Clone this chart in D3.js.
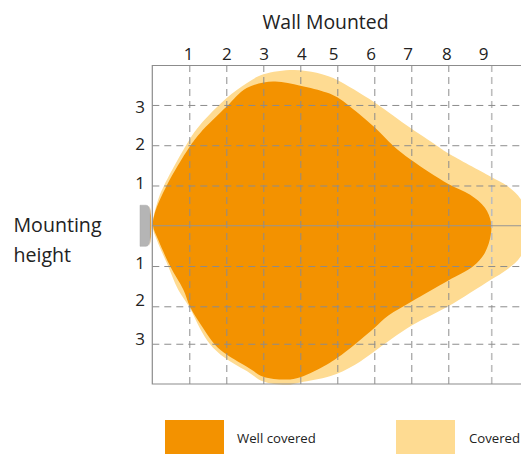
<!DOCTYPE html>
<html>
<head>
<meta charset="utf-8">
<style>
html,body{margin:0;padding:0;background:#fff}
svg{display:block}
text{font-family:"Open Sans",sans-serif;fill:#222}
</style>
<script src="https://cdn.jsdelivr.net/npm/d3@7"></script>
</head>
<body>
<script>
const title = "Wall Mounted";
const sideLabel = ["Mounting", "height"];
const legendLabels = ["Well covered", "Covered"];
const xGrid = [1, 2, 3, 4, 5, 6, 7, 8];
const xGridLast = [9.16];
const yGrid = [3, 2, 1, -1, -2, -2.93];
const xLabelAt = [0.97, 2, 3.01, 4.03, 4.89, 5.9, 6.9, 7.95, 8.94];
const yLabelAt = [2.96, 2.03, 1.06, -0.93, -1.85, -2.81];
const wellX = [0.02,0.07,0.39,1,1.29,2.01,2.55,3.27,4,4.71,5,5.34,6,6.51,6.99,8,8.59,8.99,9.15,9.15,8.99,8.68,8,7.01,6.38,6,5.48,5,4.71,4,3.63,3,2.64,2.01,1.7,1.38,1.02,0.84,0.48,0.16];
const wellY = [0,0.32,1,1.95,2.3,2.96,3.42,3.58,3.48,3.31,3.19,2.96,2.45,1.99,1.64,1.04,0.77,0.45,0.11,-0.22,-0.67,-1,-1.36,-1.88,-2.23,-2.54,-2.94,-3.28,-3.45,-3.76,-3.82,-3.75,-3.55,-3.2,-2.96,-2.55,-2.01,-1.59,-1,-0.35];
const coveredX = [0.01,0.16,0.32,1,1.29,2.01,2.55,3,3.81,4.44,4.8,5,6,6.99,7.69,8,9.15,9.58,9.96,10.21,9.96,9.58,9.15,8,7.01,6,5.48,4.8,4,3.63,3,2.64,1.96,1.56,1.29,1,0.7,0.39,0.12];
const coveredY = [0,0.65,1,2.13,2.5,3.17,3.54,3.76,3.87,3.8,3.7,3.62,3.07,2.42,1.99,1.8,1.22,1,0.66,0,-0.76,-1.09,-1.34,-2,-2.48,-3.12,-3.45,-3.74,-3.89,-3.95,-3.87,-3.66,-3.28,-2.94,-2.55,-2.02,-1.59,-0.92,-0.35];

const W = 521, H = 454;
const left = 152.3, top_ = 65.5, bottom = 384;
const ORANGE = "#f39200", LIGHT = "#fedb92", GRID = "#8c8c8c";

const svg = d3.select("body").append("svg").attr("width", W).attr("height", H);
const x = d3.scaleLinear().domain([0, 10]).range([left, left + 370]);
const y = d3.scaleLinear().domain([-3.93, 3.98]).range([bottom, top_]);

const area = d3.line().x(d => x(d[0])).y(d => y(d[1])).curve(d3.curveCatmullRomClosed.alpha(0.5));
svg.append("defs").append("clipPath").attr("id", "c").append("rect")
  .attr("x", left).attr("y", 60).attr("width", W - left).attr("height", 330);

const marks = svg.append("g").attr("clip-path", "url(#c)");
marks.append("path").attr("d", area(d3.zip(coveredX, coveredY))).attr("fill", LIGHT);
marks.append("path").attr("d", area(d3.zip(wellX, wellY))).attr("fill", ORANGE);

// lamp
svg.append("path").attr("fill", "#e89a2c")
  .attr("d", `M${x(0)-2.5},${y(0.5)}Q${x(0)+0.5},${y(0)} ${x(0)-2.5},${y(-0.5)}Z`);
svg.append("path").attr("fill", "#b5b5b5").attr("stroke", "#a8a8a8").attr("stroke-width", 0.5)
  .attr("d", `M140,${y(0.51)}H146Q150,${y(0.51)} 150,${y(0.3)}V${y(-0.3)}Q150,${y(-0.51)} 146,${y(-0.51)}H140Z`);

// grid via axes
const gv = svg.append("g").attr("transform", `translate(0,${bottom})`)
  .call(d3.axisTop(x).tickValues(xGrid).tickSize(bottom - top_).tickFormat(""));
gv.select(".domain").remove();
gv.selectAll("line").attr("stroke", GRID).attr("stroke-width", 1).attr("stroke-dasharray", "7,5");

const gv9 = svg.append("g").attr("transform", `translate(0,${bottom})`)
  .call(d3.axisTop(x).tickValues(xGridLast).tickSize(bottom - top_).tickFormat(""));
gv9.select(".domain").remove();
gv9.selectAll("line").attr("stroke", "#bdbdbd").attr("stroke-width", 1.6).attr("stroke-dasharray", "7,5");

const gh = svg.append("g").attr("transform", `translate(${left},0)`)
  .call(d3.axisRight(y).tickValues(yGrid).tickSize(W - left).tickFormat(""));
gh.select(".domain").remove();
gh.selectAll("line").attr("stroke", GRID).attr("stroke-width", 1).attr("stroke-dasharray", "7,5");

// centre line + frame
svg.append("line").attr("x1", left).attr("x2", W).attr("y1", y(0)).attr("y2", y(0))
  .attr("stroke", "#959595").attr("stroke-width", 1.2);
svg.append("path").attr("fill", "none").attr("stroke", "#8c8c8c").attr("stroke-width", 1.2)
  .attr("d", `M${W},${top_}H${left}V${bottom}H${W}`);

// tick labels
const tx = svg.append("g").attr("transform", "translate(0,66)")
  .call(d3.axisTop(x).tickValues(xLabelAt).tickSize(0).tickPadding(0).tickFormat(d3.format(".0f")));
tx.select(".domain").remove();
tx.selectAll("text").attr("y", -6).attr("dy", 0).attr("font-size", 17).style("font-family", '"Open Sans",sans-serif').style("fill", "#222");

const ty = svg.append("g").attr("transform", "translate(145,0)")
  .call(d3.axisLeft(y).tickValues(yLabelAt).tickSize(0).tickPadding(0).tickFormat(d => String(Math.round(Math.abs(d)))));
ty.select(".domain").remove();
ty.selectAll("text").attr("font-size", 17).style("font-family", '"Open Sans",sans-serif').style("fill", "#222");

// titles
svg.append("text").attr("x", 325.5).attr("y", 28.5).attr("text-anchor", "middle").attr("font-size", 19.4).text(title);
svg.selectAll(".side").data(sideLabel).join("text").attr("class", "side")
  .attr("x", 13.5).attr("y", (d, i) => 232 + i * 30).attr("font-size", 19.6).text(d => d);

// legend
const legendX = [165, 396], legendColors = [ORANGE, LIGHT], legendTextX = [237, 469];
legendLabels.forEach((t, i) => {
  svg.append("rect").attr("x", legendX[i]).attr("y", 420).attr("width", 59).attr("height", 34).attr("fill", legendColors[i]);
  svg.append("text").attr("x", legendTextX[i]).attr("y", 443).attr("font-size", 13.2).text(t);
});
</script>
</body>
</html>
